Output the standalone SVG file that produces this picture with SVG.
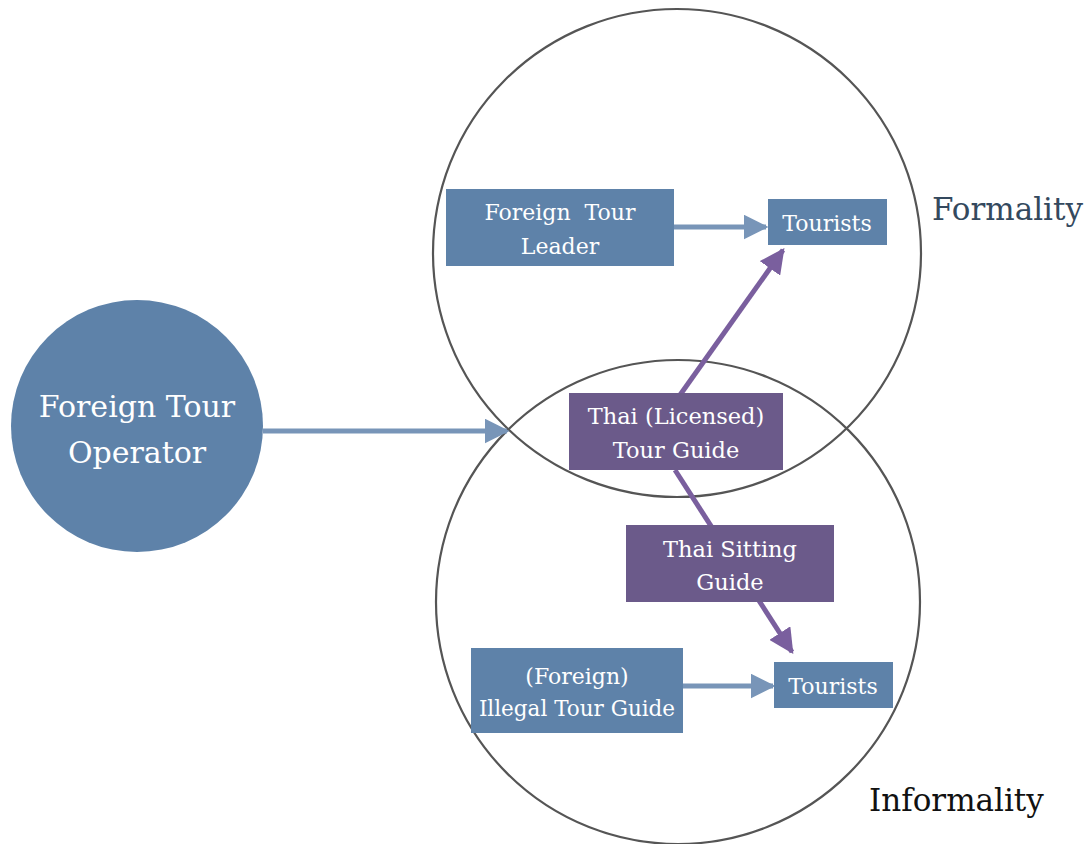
<svg xmlns="http://www.w3.org/2000/svg" width="1084" height="844" viewBox="0 0 1084 844">
<defs>
<style>
.ring{fill:none;stroke:#555;stroke-width:2.2}
.blue{fill:#5E82A9}
.purple{fill:#6B5A8A}
.lbl{font-family:"DejaVu Serif","Liberation Serif",serif;fill:#fff;text-anchor:middle}
.bl{stroke:#7895B8;stroke-width:5;fill:none}
.pl{stroke:#7A5F9E;stroke-width:5;fill:none}
</style>
<marker id="ab" viewBox="0 0 10 10" refX="9" refY="5" markerWidth="5" markerHeight="5" markerUnits="strokeWidth" orient="auto"><path d="M0,0L10,5L0,10z" fill="#7895B8"/></marker>
<marker id="ap" viewBox="0 0 10 10" refX="9" refY="5" markerWidth="5" markerHeight="5" markerUnits="strokeWidth" orient="auto"><path d="M0,0L10,5L0,10z" fill="#7A5F9E"/></marker>
</defs>
<rect width="1084" height="844" fill="#fff"/>
<g id="ring-formality"><circle class="ring" cx="677" cy="253" r="244"/></g>
<g id="ring-informality"><circle class="ring" cx="678" cy="602" r="242"/></g>
<g id="connectors">
<line class="bl" x1="263" y1="431" x2="507" y2="431" marker-end="url(#ab)"/>
<line class="bl" x1="674" y1="227" x2="766" y2="227" marker-end="url(#ab)"/>
<line class="bl" x1="683" y1="686" x2="773" y2="686" marker-end="url(#ab)"/>
<line class="pl" x1="680" y1="395" x2="783" y2="250" marker-end="url(#ap)"/>
<line class="pl" x1="675" y1="470" x2="792" y2="652" marker-end="url(#ap)"/>
</g>
<g id="operator"><circle class="blue" cx="137" cy="426" r="126"/>
<text class="lbl" font-size="30" x="137" y="417">Foreign Tour</text>
<text class="lbl" font-size="30" x="137" y="463">Operator</text></g>
<g id="tour-leader"><rect class="blue" x="446" y="189" width="228" height="77"/>
<text class="lbl" font-size="22" x="560" y="220" xml:space="preserve" style="white-space:pre">Foreign  Tour</text>
<text class="lbl" font-size="22" x="560" y="254">Leader</text></g>
<g id="tourists-top"><rect class="blue" x="768" y="199" width="119" height="46"/>
<text class="lbl" font-size="22" x="827" y="231">Tourists</text></g>
<g id="thai-licensed"><rect class="purple" x="569" y="393" width="214" height="77"/>
<text class="lbl" font-size="22.5" x="676" y="424">Thai (Licensed)</text>
<text class="lbl" font-size="22.5" x="676" y="458">Tour Guide</text></g>
<g id="thai-sitting"><rect class="purple" x="626" y="525" width="208" height="77"/>
<text class="lbl" font-size="22.5" x="730" y="557">Thai Sitting</text>
<text class="lbl" font-size="22.5" x="730" y="590">Guide</text></g>
<g id="illegal-guide"><rect class="blue" x="471" y="648" width="212" height="85"/>
<text class="lbl" font-size="22" x="577" y="684">(Foreign)</text>
<text class="lbl" font-size="21.5" x="577" y="716">Illegal Tour Guide</text></g>
<g id="tourists-bottom"><rect class="blue" x="774" y="662" width="119" height="46"/>
<text class="lbl" font-size="22" x="833" y="694">Tourists</text></g>
<g id="labels">
<text x="932" y="220" font-family="DejaVu Serif,Liberation Serif,serif" font-size="31" fill="#34495E">Formality</text>
<text x="869" y="811" font-family="DejaVu Serif,Liberation Serif,serif" font-size="31" fill="#111">Informality</text>
</g>
</svg>
